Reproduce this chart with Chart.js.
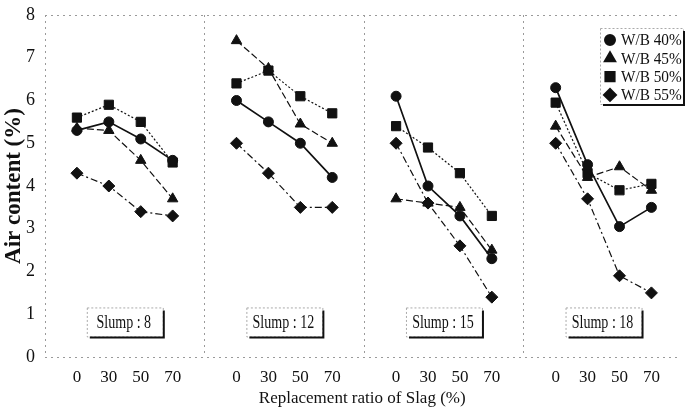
<!DOCTYPE html>
<html>
<head>
<meta charset="utf-8">
<script src="https://cdn.jsdelivr.net/npm/chart.js@4/dist/chart.umd.min.js"></script>
<style>
  html, body { margin: 0; padding: 0; background: #fff; }
  #wrap { width: 687px; height: 416px; }
</style>
</head>
<body>
<div id="wrap"><canvas id="airChart" width="687" height="416"></canvas></div>
<script>
// datos
const panels = ["Slump : 8", "Slump : 12", "Slump : 15", "Slump : 18"]
const ratios = ["0", "30", "50", "70"]
const yTicks = [0, 1, 2, 3, 4, 5, 6, 7, 8]

// cada fila = un panel (slump 8, 12, 15, 18), columnas = 0, 30, 50, 70 %
const wb40 = [[5.3, 5.5, 5.1, 4.6], [6.0, 5.5, 5.0, 4.2], [6.1, 4.0, 3.3, 2.3], [6.3, 4.5, 3.05, 3.5]]
const wb45 = [[5.35, 5.3, 4.6, 3.7], [7.4, 6.75, 5.45, 5.0], [3.7, 3.6, 3.5, 2.5], [5.4, 4.2, 4.45, 3.9]]
const wb50 = [[5.6, 5.9, 5.5, 4.55], [6.4, 6.7, 6.1, 5.7], [5.4, 4.9, 4.3, 3.3], [5.95, 4.3, 3.9, 4.05]]
const wb55 = [[4.3, 4.0, 3.4, 3.3], [5.0, 4.3, 3.5, 3.5], [5.0, 3.6, 2.6, 1.4], [5.0, 3.7, 1.9, 1.5]]

const serif = "'Liberation Serif', 'DejaVu Serif', serif"
const ink = "#111"
const frameGray = "#9a9a9a"

// convierte los paneles en puntos x lineales con un hueco entre paneles
function toPoints(rows){
    const pts = []
    rows.forEach((row, p) => {
        row.forEach((v, j) => pts.push({ x: p * 5 + j + 1, y: v }))
        pts.push({ x: p * 5 + 5, y: null })
    })
    return pts
}

function makeSet(label, rows, style, radius, dash, width){
    return {
        label: label,
        data: toPoints(rows),
        borderColor: ink,
        backgroundColor: ink,
        borderWidth: width,
        borderDash: dash,
        pointStyle: style,
        pointRadius: radius,
        pointBorderWidth: 1,
        pointBackgroundColor: ink,
        pointBorderColor: ink,
        tension: 0,
        spanGaps: false
    }
}

// texto algo estrecho como en el original escaneado
function narrowText(ctx, txt, x, y, sx){
    ctx.save()
    ctx.translate(x, y)
    ctx.scale(sx, 1)
    ctx.fillText(txt, 0, 0)
    ctx.restore()
}

function shadowBox(ctx, x0, y0, w, h){
    ctx.fillStyle = "#fff"
    ctx.fillRect(x0, y0, w, h)
    ctx.strokeStyle = "#aaa"
    ctx.lineWidth = 1
    ctx.setLineDash([2, 2])
    ctx.strokeRect(x0 + 0.5, y0 + 0.5, w, h)
    ctx.setLineDash([])
    ctx.strokeStyle = ink
    ctx.lineWidth = 2
    ctx.beginPath()
    ctx.moveTo(x0 + w + 1, y0 + 3)
    ctx.lineTo(x0 + w + 1, y0 + h + 1)
    ctx.lineTo(x0 + 3, y0 + h + 1)
    ctx.stroke()
}

// cajas "Slump" y leyenda dibujadas encima
const overlayPlugin = {
    id: "overlay",
    afterDatasetsDraw(chart){
        const ctx = chart.ctx
        const xs = chart.scales.x
        const ys = chart.scales.y
        ctx.save()
        ctx.textBaseline = "middle"
        panels.forEach((txt, p) => {
            const cx = xs.getPixelForValue(p * 5 + 2.5)
            const cy = ys.getPixelForValue(0.82)
            const w = 76, h = 29
            shadowBox(ctx, cx - w / 2, cy - h / 2, w, h)
            ctx.fillStyle = ink
            ctx.font = "18px " + serif
            ctx.textAlign = "center"
            narrowText(ctx, txt, cx - 1, cy + 1, 0.78)
        })

        // leyenda
        const lx = 600, ly = 28, lw = 83, lh = 76
        shadowBox(ctx, lx, ly, lw, lh)
        ctx.textAlign = "left"
        ctx.font = "17px " + serif
        chart.data.datasets.forEach((ds, i) => {
            const ey = ly + 12 + i * 18.3
            ctx.fillStyle = ink
            ctx.strokeStyle = ink
            Chart.helpers.drawPoint(ctx, {
                pointStyle: ds.pointStyle,
                radius: ds.pointRadius,
                rotation: 0,
                borderWidth: 1
            }, lx + 10, ey)
            ctx.fillStyle = ink
            narrowText(ctx, ds.label, lx + 21, ey + 1, 0.9)
        })
        ctx.restore()
    }
}

const airChart = new Chart(document.getElementById("airChart"), {
    type: "line",
    data: {
        datasets: [
            makeSet("W/B 40%", wb40, "circle", 5, [], 1.7),
            makeSet("W/B 45%", wb45, "triangle", 6, [7, 3], 1.2),
            makeSet("W/B 50%", wb50, "rect", 6.5, [2, 2], 1.2),
            makeSet("W/B 55%", wb55, "rectRot", 6, [7, 3, 2, 3], 1.2)
        ]
    },
    options: {
        responsive: false,
        animation: false,
        devicePixelRatio: 1,
        layout: { padding: { top: 15, right: 0, left: 0, bottom: 0 } },
        plugins: {
            legend: { display: false },
            tooltip: { enabled: false }
        },
        scales: {
            x: {
                type: "linear",
                min: 0,
                max: 19.88,
                afterBuildTicks(scale){
                    scale.ticks = Array.from({ length: 20 }, (_, i) => ({ value: i }))
                },
                afterFit(scale){
                    scale.height = 59
                    scale.paddingLeft = 0
                    scale.paddingRight = 0
                },
                ticks: {
                    autoSkip: false,
                    maxRotation: 0,
                    padding: 10,
                    color: ink,
                    font: { family: serif, size: 17 },
                    callback: (v) => (v % 5 === 0 ? "" : ratios[(v % 5) - 1])
                },
                grid: {
                    drawTicks: false,
                    lineWidth: 1,
                    color: (c) => (c.tick && c.tick.value % 5 === 0 ? frameGray : "rgba(0,0,0,0)")
                },
                border: { display: false, dash: [2, 4] },
                title: {
                    display: true,
                    text: "Replacement ratio of Slag (%)",
                    color: ink,
                    font: { family: serif, size: 17 },
                    padding: { top: 0, bottom: 7 }
                }
            },
            y: {
                min: 0,
                max: 8,
                afterBuildTicks(scale){
                    scale.ticks = yTicks.map(v => ({ value: v }))
                },
                afterFit(scale){
                    scale.width = 45
                    scale.paddingTop = 0
                    scale.paddingBottom = 0
                },
                ticks: {
                    padding: 10,
                    color: ink,
                    font: { family: serif, size: 18 }
                },
                grid: {
                    drawTicks: false,
                    color: (c) => (c.tick && (c.tick.value === 0 || c.tick.value === 8) ? frameGray : "rgba(0,0,0,0)")
                },
                border: { display: false, dash: [2, 4] },
                title: {
                    display: true,
                    text: "Air content (%)",
                    color: ink,
                    font: { family: serif, size: 23, weight: "bold" },
                    padding: { top: 0, bottom: 0 }
                }
            }
        }
    },
    plugins: [overlayPlugin]
})
</script>
</body>
</html>
